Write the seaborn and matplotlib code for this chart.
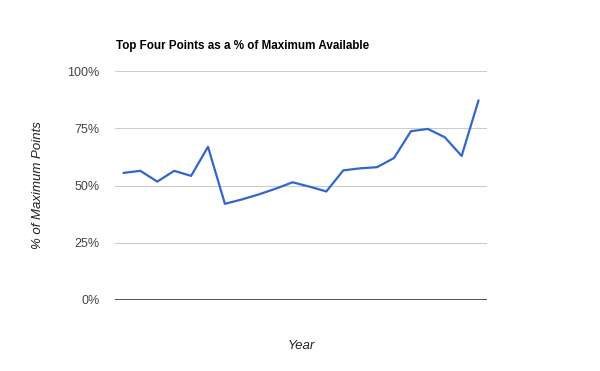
import matplotlib
matplotlib.use("Agg")
import matplotlib.pyplot as plt
import seaborn as sns
import pandas as pd
from matplotlib.ticker import FuncFormatter

idx = list(range(22))
pct = [55.5, 56.4, 51.7, 56.4, 54.2, 66.9, 42.0, 43.9, 46.1, 48.6, 51.4,
       49.5, 47.4, 56.6, 57.5, 58.0, 62.0, 73.7, 74.7, 71.1, 62.9, 87.2]
yticks = [0, 25, 50, 75, 100]

df = pd.DataFrame({"i": idx, "pct": pct})

sns.set_theme(style="white")
plt.rcParams['font.family'] = ['Liberation Sans', 'DejaVu Sans']

fig = plt.figure(figsize=(6.0, 3.71), dpi=100)
ax = fig.add_axes([115/600, 71/371, 372/600, 229/371])
sns.lineplot(data=df, x="i", y="pct", ax=ax, color="#3366CC", linewidth=1.6)

ax.set_xlim(-0.5, 21.5)
ax.set_ylim(0, 100)
ax.set_yticks(yticks)
ax.yaxis.set_major_formatter(FuncFormatter(lambda v, p: f"{int(v)}%"))
ax.set_xticks([])
ax.grid(axis="y", color="#CCCCCC", linewidth=0.8)
ax.axhline(0, color="#333333", linewidth=1.2, zorder=3)
for s in ["top", "right", "left", "bottom"]:
    ax.spines[s].set_visible(False)
ax.tick_params(axis="y", length=0, pad=11, labelsize=9, labelcolor="#444444")

ax.set_xlabel("Year", fontsize=9.5, style="italic", color="#222222", labelpad=29)
ax.set_ylabel("% of Maximum Points", fontsize=9.5, style="italic", color="#222222", labelpad=17)
fig.text(116/600, 1 - 46/371, "Top Four Points as a % of Maximum Available",
         fontsize=8.4, fontweight="bold", color="#000000", va="center", ha="left")

fig.savefig("out.png", dpi=100, facecolor="white")
